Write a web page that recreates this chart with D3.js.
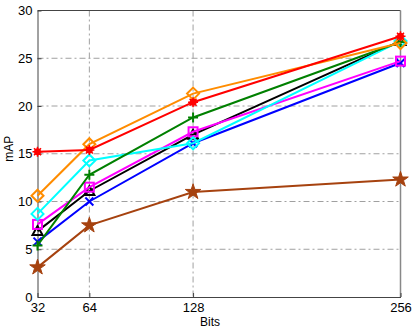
<!DOCTYPE html>
<meta charset="utf-8">
<style>
  body { margin: 0; background: #fff; font-family: "Liberation Sans", Arial, sans-serif; }
  .grid line { stroke: #a0a0a0; stroke-width: 1; stroke-dasharray: 6,3,2,3; }
  .axis text { font-size: 13px; fill: #000; }
  .axis path, .axis line { stroke: #444; }
  .line { fill: none; stroke-width: 2px; }
</style>
<body>
<script src="https://d3js.org/d3.v7.min.js"></script>
<script>
  // data
  var bits = [32, 64, 128, 256];
  var yTicks = [0, 5, 10, 15, 20, 25, 30];

  var black   = [6.9, 11.1, 17.0, 26.8];
  var blue    = [5.8, 10.0, 16.1, 24.5];
  var magenta = [7.6, 11.5, 17.3, 24.7];
  var green   = [5.4, 12.8, 18.8, 26.7];
  var cyan    = [8.7, 14.3, 16.1, 26.8];
  var orange  = [10.6, 16.0, 21.3, 26.6];
  var red     = [15.2, 15.4, 20.4, 27.3];
  var brown   = [3.1, 7.5, 11.0, 12.3];

  var series = [
    {values: brown, color: "#a6420f", marker: "star"},
    {values: blue, color: "#0000ff", marker: "x"},
    {values: black, color: "#000000", marker: "triangle"},
    {values: magenta, color: "#ff00ff", marker: "square"},
    {values: cyan, color: "#00ffff", marker: "diamond"},
    {values: green, color: "#008000", marker: "plus"},
    {values: orange, color: "#ff8c00", marker: "diamond"},
    {values: red, color: "#ff0000", marker: "circle"}
  ];

  var margin = {top: 10.5, right: 14.5, bottom: 33, left: 37.5},
      width = 415 - margin.left - margin.right,
      height = 330 - margin.top - margin.bottom;

  var x = d3.scaleLinear().domain([32, 256]).range([0, width]);
  var y = d3.scaleLinear().domain([0, 30]).range([height, 0]);

  var svg = d3.select("body").append("svg")
      .attr("width", 415)
      .attr("height", 330)
    .append("g")
      .attr("transform", "translate(" + margin.left + "," + margin.top + ")");

  // grid
  var grid = svg.append("g").attr("class", "grid");
  grid.selectAll(".gy").data(yTicks.slice(1, -1)).enter().append("line")
      .attr("x1", 0).attr("x2", width)
      .attr("y1", function(d) { return y(d); }).attr("y2", function(d) { return y(d); });
  grid.selectAll(".gx").data(bits.slice(1, -1)).enter().append("line")
      .attr("y1", 0).attr("y2", height)
      .attr("x1", function(d) { return x(d); }).attr("x2", function(d) { return x(d); });

  // box
  svg.append("path")
      .attr("d", "M0,0H" + width)
      .attr("stroke", "#444").attr("fill", "none");
  svg.append("path")
      .attr("d", "M" + width + ",0V" + height)
      .attr("stroke", "#888").attr("stroke-width", 1.5).attr("fill", "none");

  // axes
  svg.append("g")
      .attr("class", "axis")
      .attr("transform", "translate(0," + height + ")")
      .call(d3.axisBottom(x).tickValues(bits).tickSize(-4).tickPadding(6).tickSizeOuter(0));
  svg.append("g")
      .attr("class", "axis")
      .call(d3.axisLeft(y).tickValues(yTicks).tickSize(-4).tickPadding(5).tickSizeOuter(0));

  svg.append("text")
      .attr("x", x(128) + 17).attr("y", height + 29)
      .attr("text-anchor", "middle").attr("font-size", "12px")
      .text("Bits");
  svg.append("text")
      .attr("transform", "translate(" + (-25) + "," + (height / 2 - 5) + ") rotate(-90)")
      .attr("text-anchor", "middle").attr("font-size", "12px")
      .text("mAP");

  var line = d3.line()
      .x(function(d, i) { return x(bits[i]); })
      .y(function(d) { return y(d); });

  var starPath = d3.symbol().type(d3.symbolStar).size(75)();

  series.forEach(function(s) {
    svg.append("path")
        .datum(s.values)
        .attr("class", "line")
        .attr("stroke", s.color)
        .attr("d", line);

    var g = svg.append("g");
    var pts = g.selectAll("g").data(s.values).enter().append("g")
        .attr("transform", function(d, i) { return "translate(" + x(bits[i]) + "," + y(d) + ")"; });

    if (s.marker === "star") {
      pts.append("path").attr("d", starPath).attr("fill", s.color).attr("stroke", s.color);
    } else if (s.marker === "circle") {
      pts.append("circle").attr("r", 3.5).attr("fill", s.color);
      pts.append("path").attr("d", "M-5,0H5M0,-5V5M-3.5,-3.5L3.5,3.5M-3.5,3.5L3.5,-3.5")
          .attr("stroke", s.color).attr("stroke-width", 1.5);
    } else if (s.marker === "x") {
      pts.append("path").attr("d", "M-4,-4L4,4M-4,4L4,-4")
          .attr("stroke", s.color).attr("stroke-width", 2);
    } else if (s.marker === "plus") {
      pts.append("path").attr("d", "M-5,0H5M0,-5V5")
          .attr("stroke", s.color).attr("stroke-width", 2);
    } else if (s.marker === "triangle") {
      pts.append("path").attr("d", "M0,-5L5,4H-5Z")
          .attr("stroke", s.color).attr("stroke-width", 2).attr("fill", "none");
    } else if (s.marker === "square") {
      pts.append("rect").attr("x", -4.5).attr("y", -4.5).attr("width", 9).attr("height", 9)
          .attr("stroke", s.color).attr("stroke-width", 2).attr("fill", "none");
    } else if (s.marker === "diamond") {
      pts.append("path").attr("d", "M0,-6L6,0L0,6L-6,0Z")
          .attr("stroke", s.color).attr("stroke-width", 2).attr("fill", "none");
    }
  });
</script>
